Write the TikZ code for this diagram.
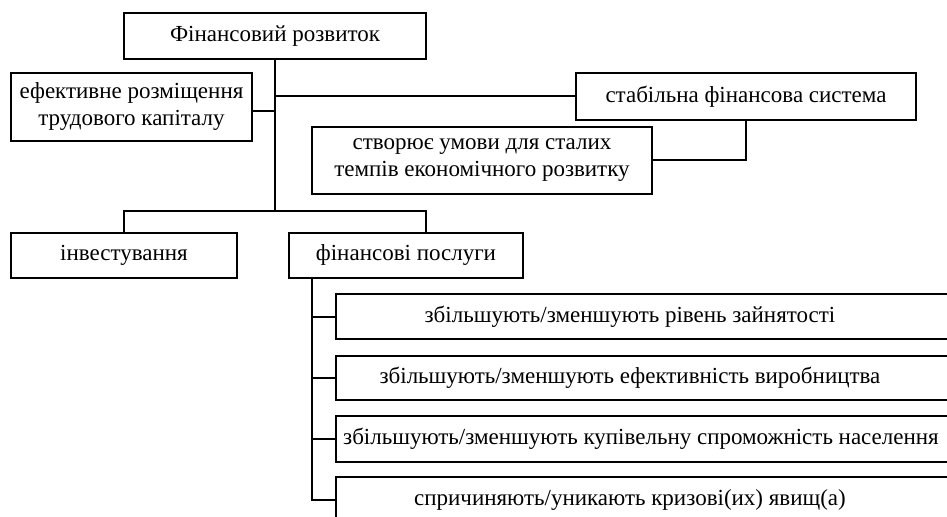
\documentclass[tikz,border=0pt]{standalone}
\usepackage{fontspec}
\setmainfont{Liberation Serif}
\usepackage{tikz}
\usetikzlibrary{calc}

\tikzset{
	box/.style={draw, line width=1pt, inner sep=0pt, align=center, font=\fontsize{11.5}{13.5}\selectfont},
	txt/.style={inner sep=0pt, font=\fontsize{11.5}{13.5}\selectfont},
	link/.style={line width=1pt}
}

\begin{document}
\begin{tikzpicture}[x=0.5pt, y=-0.5pt]
		\clip (0,0) rectangle (947,517);
		% upper level
		\node [box, minimum width=151pt, minimum height=23pt] (top) at (275,36) {Фінансовий розвиток};
		\node [box, minimum width=120.5pt, minimum height=34pt] (eff) at (131.5,107) {ефективне розміщення\\трудового капіталу};
		\node [box, minimum width=170pt, minimum height=23.5pt] (stab) at (746,96.5) {стабільна фінансова система};
		\node [box, minimum width=170pt, minimum height=33.5pt] (stvor) at (482,160.5) {створює умови для сталих\\темпів економічного розвитку};
		\node [box, minimum width=113pt, minimum height=22.5pt] (inv) at (124,255.5) {інвестування};
		\node [box, minimum width=117pt, minimum height=22.5pt] (fin) at (406,255.5) {фінансові послуги};
		\coordinate (split) at (275,211);
		\coordinate (split l) at (124,211);
		\coordinate (split r) at (426,211);
		\draw [link] (top.south) -- (split);
		\draw [link] ($(eff.east)+(0,4)$) -- ($(eff.east -| split)+(0,4)$);
		\draw [link] (stab.west -| split) -- (stab.west);
		\draw [link] (stab.south) |- (stvor.east);
		\draw [link] (inv.north -| split l) -- (split l) -- (split r) -- (fin.north -| split r);
		% services
		\node [box, anchor=west, minimum width=340pt, minimum height=22.5pt] (b1) at (335,317) {};
		\node [box, anchor=west, minimum width=340pt, minimum height=22pt] (b2) at (335,378) {};
		\node [box, anchor=west, minimum width=340pt, minimum height=23pt] (b3) at (335,439) {};
		\node [box, anchor=west, minimum width=340pt, minimum height=22.5pt] (b4) at (335,500) {};
		\node [txt] (t1) at (630,317) {збільшують/зменшують рівень зайнятості};
		\node [txt] (t2) at (630,378) {збільшують/зменшують ефективність виробництва};
		\node [txt] (t3) at (641,439) {збільшують/зменшують купівельну спроможність населення};
		\node [txt] (t4) at (630,500) {спричиняють/уникають кризові(их) явищ(а)};
		\coordinate (rail) at (312,278);
		\draw [link] (rail) |- (b4.west);
		\draw [link] (rail |- b1.west) -- (b1.west);
		\draw [link] (rail |- b2.west) -- (b2.west);
		\draw [link] (rail |- b3.west) -- (b3.west);
	\end{tikzpicture}
\end{document}
